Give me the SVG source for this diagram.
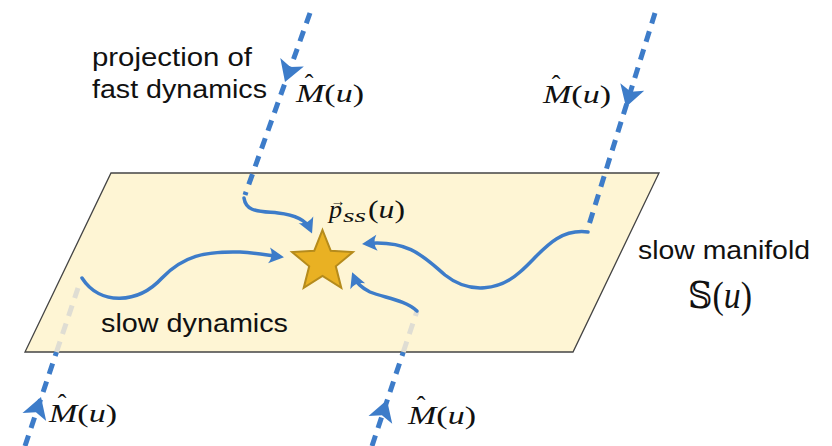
<svg xmlns="http://www.w3.org/2000/svg" width="832" height="446" viewBox="0 0 832 446">
<style>
.fast{fill:none;stroke:#3d7cc9;stroke-width:5;stroke-dasharray:11 8}
.ghost{fill:none;stroke:#dfddd3;stroke-width:5;stroke-dasharray:11 8}
.slow{fill:none;stroke:#3d7cc9;stroke-width:3.5;stroke-linecap:round;marker-end:url(#ah)}
.tri{fill:#3d7cc9}
.lbl{font-family:"Liberation Sans",Arial,sans-serif;font-size:25px;fill:#111}
.math{font-family:"Liberation Serif","Times New Roman",serif;font-size:26px;fill:#111}
.it{font-style:italic}
</style>
<defs>
<marker id="ah" markerUnits="userSpaceOnUse" orient="auto" overflow="visible" markerWidth="1" markerHeight="1" refX="0" refY="0">
<path d="M5,0 L-10,-8 Q-5,0 -10,8 Z" fill="#3d7cc9"/>
</marker>
<path id="tri" d="M0,0 L-21,-12.5 L-16,0 L-21,12.5 Z"/>
</defs>
<rect width="832" height="446" fill="#ffffff"/>

<g id="plane">
<polygon points="111,173 659,173 573,352 25,352" fill="#fef5d4" stroke="#444" stroke-width="1.3"/>
</g>

<g id="connectors">
<path class="fast" d="M310,13 L245,195"/>
<use href="#tri" class="tri" transform="translate(285,82) rotate(109.65)"/>
<path class="fast" d="M655,13 L588,228"/>
<use href="#tri" class="tri" transform="translate(626,107) rotate(107.3)"/>
<path class="fast" d="M25,446 L56.5,352"/>
<path class="ghost" d="M56.5,352 L78,288"/>
<use href="#tri" class="tri" transform="translate(41,397) rotate(-71.5)"/>
<path class="fast" d="M372,446 L403.3,352"/>
<path class="ghost" d="M403.3,352 L417,311"/>
<use href="#tri" class="tri" transform="translate(387,400) rotate(-71.57)"/>

<path class="slow" d="M244,198 C246,212 258,211 278,213 C296,215 306,220 310,229"/>
<path class="slow" d="M82,278 C100,306 138,304 162,278 C183,256 205,251 240,252 C255,253 266,255 279,256.6"/>
<path class="slow" d="M588,232 C555,228 540,255 520,272 C500,290 470,295 445,275 C425,258 410,240 367,243.5"/>
<path class="slow" d="M417,311 C405,300 385,298 370,292 C362,288 356,282 354,277"/>
</g>

<g id="star">
<polygon points="322.5,230 330.7,250.7 352.9,252.1 335.8,266.3 341.3,287.9 322.5,276 303.7,287.9 309.2,266.3 292.1,252.1 314.3,250.7" fill="#e9b123" stroke="#b58b1c" stroke-width="2" stroke-linejoin="miter"/>
</g>

<g id="label-projection">
<text class="lbl" x="92" y="66" textLength="160" lengthAdjust="spacingAndGlyphs">projection of</text>
<text class="lbl" x="92" y="98" textLength="175" lengthAdjust="spacingAndGlyphs">fast dynamics</text>
</g>
<g id="label-slow-dynamics">
<text class="lbl" x="101" y="332" textLength="187" lengthAdjust="spacingAndGlyphs">slow dynamics</text>
</g>
<g id="label-manifold">
<text class="lbl" x="638" y="259" textLength="172" lengthAdjust="spacingAndGlyphs">slow manifold</text>
<text x="688" y="308" font-family="DejaVu Serif,DejaVu Sans,serif" font-size="38" fill="#111" textLength="64" lengthAdjust="spacingAndGlyphs">𝕊<tspan font-family="Liberation Serif,serif">(</tspan><tspan font-family="Liberation Serif,serif" font-style="italic">u</tspan><tspan font-family="Liberation Serif,serif">)</tspan></text>
</g>

<g id="label-M1">
<text class="math" x="296" y="102" textLength="68" lengthAdjust="spacingAndGlyphs"><tspan class="it">M</tspan>(<tspan class="it">u</tspan>)</text>
<text class="math" x="309" y="92" text-anchor="middle">ˆ</text>
</g>
<g id="label-M2">
<text class="math" x="543" y="103" textLength="68" lengthAdjust="spacingAndGlyphs"><tspan class="it">M</tspan>(<tspan class="it">u</tspan>)</text>
<text class="math" x="556" y="93" text-anchor="middle">ˆ</text>
</g>
<g id="label-M3">
<text class="math" x="49" y="422" textLength="68" lengthAdjust="spacingAndGlyphs"><tspan class="it">M</tspan>(<tspan class="it">u</tspan>)</text>
<text class="math" x="62" y="412" text-anchor="middle">ˆ</text>
</g>
<g id="label-M4">
<text class="math" x="408" y="424" textLength="68" lengthAdjust="spacingAndGlyphs"><tspan class="it">M</tspan>(<tspan class="it">u</tspan>)</text>
<text class="math" x="421" y="414" text-anchor="middle">ˆ</text>
</g>

<g id="label-pss">
<text class="math it" x="329" y="218">p</text>
<text class="math" x="338" y="206" style="font-size:15px" text-anchor="middle">→</text>
<text class="math it" x="343" y="222" style="font-size:18px" textLength="23" lengthAdjust="spacingAndGlyphs">ss</text>
<text class="math" x="368" y="218" textLength="37" lengthAdjust="spacingAndGlyphs">(<tspan class="it">u</tspan>)</text>
</g>
</svg>
